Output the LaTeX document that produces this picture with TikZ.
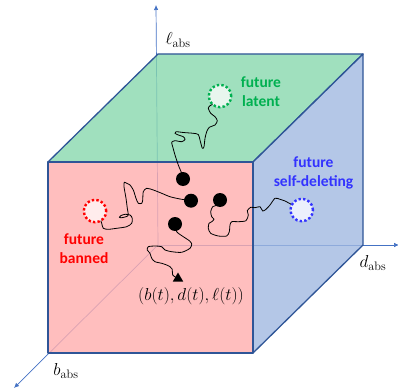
\documentclass[tikz,border=0pt]{standalone}
\usepackage{fontspec}
\newfontfamily\labfont{Carlito}
\usetikzlibrary{arrows.meta,shapes.geometric}
\definecolor{edgec}{HTML}{2F5597}
\definecolor{axisc}{HTML}{4472C4}
\definecolor{frontc}{RGB}{255,174,174}
\definecolor{topc}{RGB}{136,216,174}
\definecolor{sidec}{RGB}{161,185,225}
\definecolor{fgreen}{HTML}{00B050}
\definecolor{fblue}{RGB}{51,51,255}
\definecolor{fred}{HTML}{FF0000}
\definecolor{fredfill}{RGB}{255,236,236}
\definecolor{fgreenfill}{RGB}{232,246,238}
\definecolor{fbluefill}{RGB}{236,240,252}
\begin{document}
\begin{tikzpicture}[x=1pt,y=-1pt,
  face/.style={fill opacity=0.8, draw=edgec, line width=1.3pt, line join=round},
  axisline/.style={draw=axisc, line width=0.7pt, -{Latex[length=5pt,width=4.5pt]}},
  walk/.style={draw=black, line width=0.8pt, line join=round},
  particle/.style={circle, fill=black, inner sep=0pt, minimum size=14pt},
  future/.style={circle, inner sep=0pt, minimum size=22.5pt, line width=2.4pt, dash pattern=on 2.4pt off 2.2pt},
  futlabel/.style={font=\labfont\bfseries\fontsize{15.5}{19}\selectfont, align=center},
  axlabel/.style={font=\fontsize{17.5}{20}\selectfont},
  poslabel/.style={font=\fontsize{16.5}{19}\selectfont},
  tiptri/.style={regular polygon, regular polygon sides=3, fill=black, inner sep=0pt, minimum size=12pt}]
\useasboundingbox (0,0) rectangle (398,390);
% cube corners
\coordinate (O) at (158,245);
\coordinate (F1) at (48,162);
\coordinate (F2) at (253,162);
\coordinate (F3) at (253,353);
\coordinate (F4) at (48,353);
\coordinate (B1) at (158,54);
\coordinate (B2) at (363,54);
\coordinate (B3) at (363,245);
% axis ends
\coordinate (Lend) at (156,5);
\coordinate (Dend) at (399,245);
\coordinate (Bend) at (14,388);
% axes
\draw[axisline] (O) -- (Lend);
\draw[axisline] (O) -- (Dend);
\draw[axisline] (O) -- (Bend);
% faces
\path[face, fill=topc] (F1) -- (B1) -- (B2) -- (F2) -- cycle;
\path[face, fill=sidec] (F2) -- (B2) -- (B3) -- (F3) -- cycle;
\path[face, fill=frontc] (F1) -- (F2) -- (F3) -- (F4) -- cycle;
% particle and circle centres
\coordinate (pA) at (183,179);
\coordinate (pB) at (191,200.7);
\coordinate (pC) at (220,200);
\coordinate (pD) at (175,224);
\coordinate (cLat) at (220,96);
\coordinate (cBan) at (95,211);
\coordinate (cDel) at (301.7,210);
\coordinate (tipc) at (178,278.5);
% walks
\draw[walk] plot[smooth, tension=0.45] coordinates {(pA) (181.7,173.3) (178.3,165) (175,155) (172.7,146.7) (171.7,142.3) (175,140.7) (181.7,141.7) (185,139.5) (183.3,136.7) (178.3,135) (175,133.3) (176,131.7) (183.3,132.5) (193.3,133.3) (198.3,134.5) (200,140) (202.3,148.3) (204,146.7) (205,138.3) (206.7,131.7) (209.3,127.3) (215,125) (217.3,120.7) (215,116.7) (210.7,113.3) (208.3,108.3) (210,105.7) (212.7,104.3) (cLat)};
\draw[walk] plot[smooth, tension=0.45] coordinates {(pB) (180,199) (170,196.7) (161.7,193.3) (153.3,190) (146.7,188.3) (143.3,191.7) (142.7,200) (141.7,203.3) (138.3,203.3) (136,198.3) (133.3,190) (130,185) (126.7,183.3) (124.3,182.3) (124,186.7) (126,198.3) (127.3,208.3) (128.3,215) (126,216.7) (121.7,217.7) (119.3,217.3) (120.7,215.7) (125,214.3) (130,215) (132.3,218.3) (131.7,223.3) (126.7,226.7) (116.7,228.3) (108.3,229.3) (103.3,228.3) (101.7,223.3) (100.7,220) (cBan)};
\draw[walk] plot[smooth, tension=0.45] coordinates {(pC) (217.3,205) (212.7,206.7) (210.7,211.7) (211.7,216.7) (214,219.3) (211.7,221.7) (209,223.3) (208.3,228.3) (210.7,233.3) (218.3,236) (226.7,236) (229.3,231.7) (230,225) (231.7,221.7) (238.3,221.7) (246,220.7) (248.3,215) (247.3,210.7) (250.7,207.3) (255,207.7) (260,206.7) (262.7,211) (266,209.3) (270,205) (275,198.3) (280,199.3) (285,201) (289.3,203.3) (cDel)};
\draw[walk] plot[smooth, tension=0.45] coordinates {(pD) (176.7,231.7) (183.3,236.7) (189.3,240.7) (191.7,244) (190,248.3) (181.7,252.3) (171.7,251.7) (165,250) (161.7,246.7) (155,246) (148.3,246.7) (147.3,250) (150,253.3) (151.7,258.3) (155,261.7) (161.7,263.3) (166.7,265) (170,266.7) (172.3,269.3) (172.7,275) (tipc)};
% particles
\node[particle] (dA) at (pA) {};
\node[particle] (dB) at (pB) {};
\node[particle] (dC) at (pC) {};
\node[particle] (dD) at (pD) {};
\node[tiptri] (tip) at (tipc) {};
% futures
\node[future, draw=fgreen, fill=fgreenfill] (lat) at (cLat) {};
\node[future, draw=fred, fill=fredfill] (ban) at (cBan) {};
\node[future, draw=fblue, fill=fbluefill] (del) at (cDel) {};
% labels
\node[futlabel, text=fgreen] (latlab) at (261,92) {future\\latent};
\node[futlabel, text=fblue] (dellab) at (313.5,173) {future\\self-deleting};
\node[futlabel, text=fred] (banlab) at (84,249) {future\\banned};
\node[poslabel] (pos) at (191,296) {$\bigl(b(t),d(t),\ell(t)\bigr)$};
\node[axlabel] (llab) at (178,40) {$\ell_{\mathrm{abs}}$};
\node[axlabel] (dlab) at (373,263) {$d_{\mathrm{abs}}$};
\node[axlabel] (blab) at (66,371) {$b_{\mathrm{abs}}$};
\end{tikzpicture}
\end{document}
